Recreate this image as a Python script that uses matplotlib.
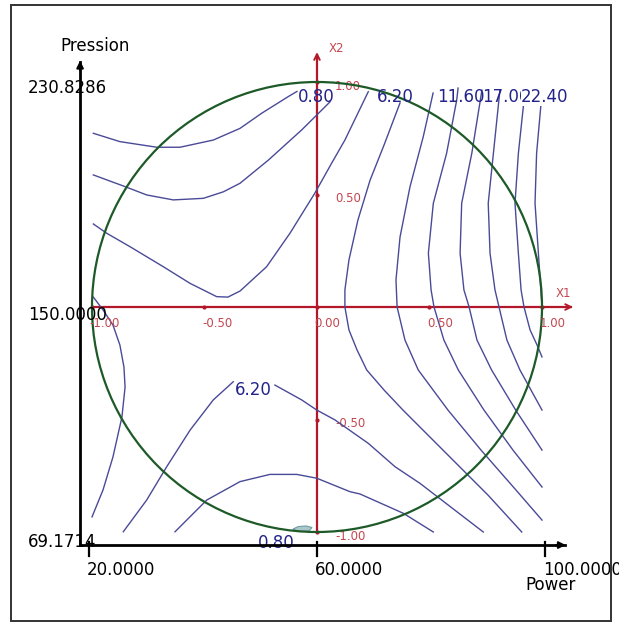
import numpy as np
import matplotlib.pyplot as plt
from matplotlib.patches import Circle, Rectangle

# response-surface isolines, coded units (X1 = power, X2 = pressure)
a_x1 = [-0.994, -0.876, -0.712, -0.609, -0.461, -0.342, -0.246, -0.128, -0.089]
a_x2 = [0.772, 0.735, 0.710, 0.710, 0.742, 0.794, 0.861, 0.935, 0.958]
b_x1 = [-0.994, -0.853, -0.757, -0.639, -0.505, -0.416, -0.342, -0.216, -0.068, 0.036, 0.058]
b_x2 = [0.587, 0.535, 0.498, 0.476, 0.483, 0.512, 0.550, 0.653, 0.787, 0.890, 0.912]
c_x1 = [-0.994, -0.935, -0.831, -0.683, -0.564, -0.446, -0.396, -0.342, -0.224, -0.120,
        -0.009, 0.065, 0.124, 0.228]
c_x2 = [0.369, 0.328, 0.268, 0.179, 0.105, 0.046, 0.044, 0.071, 0.179, 0.328,
        0.507, 0.639, 0.742, 0.957]
d_x1 = [0.369, 0.298, 0.236, 0.182, 0.142, 0.124, 0.124, 0.142, 0.178, 0.221, 0.298,
        0.382, 0.493, 0.604, 0.760, 0.910]
d_x2 = [0.907, 0.720, 0.564, 0.387, 0.209, 0.076, 0.0, -0.102, -0.191, -0.280, -0.369,
        -0.458, -0.569, -0.680, -0.836, -1.0]
e_x1 = [0.516, 0.472, 0.413, 0.369, 0.351, 0.356, 0.391, 0.450, 0.582, 0.729, 0.884, 1.0]
e_x2 = [0.951, 0.756, 0.533, 0.311, 0.120, 0.0, -0.147, -0.280, -0.458, -0.636, -0.813, -0.947]
f_x1 = [0.627, 0.621, 0.576, 0.517, 0.495, 0.507, 0.520, 0.564, 0.628, 0.742, 0.871, 1.0]
f_x2 = [0.973, 0.920, 0.683, 0.461, 0.239, 0.076, 0.0, -0.147, -0.280, -0.458, -0.636, -0.800]
g_x1 = [0.733, 0.688, 0.643, 0.636, 0.653, 0.676, 0.711, 0.776, 0.883, 1.0]
g_x2 = [0.964, 0.683, 0.461, 0.239, 0.076, 0.0, -0.147, -0.280, -0.458, -0.636]
h_x1 = [0.813, 0.784, 0.761, 0.769, 0.791, 0.809, 0.844, 0.902, 1.0]
h_x2 = [0.964, 0.683, 0.461, 0.239, 0.076, 0.0, -0.147, -0.280, -0.458]
i_x1 = [0.924, 0.895, 0.880, 0.895, 0.907, 0.920, 0.947, 0.978, 1.0]
i_x2 = [0.956, 0.683, 0.461, 0.239, 0.076, 0.0, -0.102, -0.169, -0.222]
j_x1 = [0.996, 0.976, 0.969, 0.984, 0.999, 1.0]
j_x2 = [0.907, 0.683, 0.461, 0.239, 0.018, -0.013]
k_x1 = [-0.994, -0.951, -0.907, -0.876, -0.858, -0.853, -0.867, -0.907, -0.951, -1.0]
k_x2 = [0.044, -0.013, -0.080, -0.169, -0.267, -0.356, -0.489, -0.667, -0.813, -0.933]
l1_x1 = [-0.861, -0.757, -0.668, -0.564, -0.461, -0.372]
l1_x2 = [-0.999, -0.858, -0.710, -0.547, -0.413, -0.332]
l2_x1 = [-0.187, -0.068, -0.001, 0.080, 0.228, 0.347, 0.458, 0.739]
l2_x2 = [-0.347, -0.413, -0.458, -0.502, -0.606, -0.710, -0.784, -1.0]
m_x1 = [-0.631, -0.490, -0.342, -0.209, -0.090, -0.001, 0.147, 0.191, 0.384, 0.517]
m_x2 = [-0.999, -0.858, -0.776, -0.744, -0.744, -0.761, -0.821, -0.831, -0.917, -1.0]
n_x1 = [-0.107, -0.084, -0.049, -0.022, -0.036, -0.084, -0.107]
n_x2 = [-0.987, -0.976, -0.973, -0.980, -0.996, -0.998, -0.987]

iso_lines = [(a_x1, a_x2), (b_x1, b_x2), (c_x1, c_x2), (d_x1, d_x2), (e_x1, e_x2),
             (f_x1, f_x2), (g_x1, g_x2), (h_x1, h_x2), (i_x1, i_x2), (j_x1, j_x2),
             (k_x1, k_x2), (l1_x1, l1_x2), (l2_x1, l2_x2), (m_x1, m_x2)]

# contour labels and where they sit (coded units)
level_text = ['0.80', '6.20', '11.60', '17.00', '22.40', '6.20', '0.80']
level_x1 = [-0.084, 0.267, 0.533, 0.733, 0.905, -0.364, -0.262]
level_x2 = [0.933, 0.933, 0.933, 0.933, 0.933, -0.369, -1.049]

# real-unit axes
power_ticks = [20.0, 60.0, 100.0]
power_center, power_step = 60.0, 40.0
pressure_ticks = [230.8286, 150.0, 69.1714]
pressure_center, pressure_step = 150.0, 80.8286
coded_ticks = [-1.0, -0.5, 0.0, 0.5, 1.0]

blue = '#4a4a98'
navy = '#23238a'
red = '#b3182a'
red_txt = '#c4474f'
green = '#1d5a28'

fig = plt.figure(figsize=(6.19, 6.24), dpi=100)
ax = fig.add_axes([0, 0, 1, 1])
ax.set_xlim(-317 / 225, 302 / 225)
ax.set_ylim(-317 / 225, 307 / 225)
ax.axis('off')

# frame around the picture
fig.patches.append(Rectangle((11 / 619, 3 / 624), 600 / 619, 616 / 624, fill=False,
                             lw=1.4, ec='#333333', transform=fig.transFigure))

for x1, x2 in iso_lines:
    ax.plot(x1, x2, color=blue, lw=1.0, zorder=3)
ax.fill(n_x1, n_x2, color='#a9c7c9', ec='#6f9ea3', lw=0.8, zorder=3)

ax.add_patch(Circle((0, 0), 1.0, fill=False, ec=green, lw=1.6, zorder=4))

# coded (red) axes
ax.plot([-1, 1.13], [0, 0], color=red, lw=1.6, zorder=2)
ax.plot([0, 0], [-1, 1.12], color=red, lw=1.6, zorder=2)
ax.annotate('', xy=(1.15, 0), xytext=(1.05, 0),
            arrowprops=dict(arrowstyle='->', color=red, lw=1.4))
ax.annotate('', xy=(0, 1.145), xytext=(0, 1.05),
            arrowprops=dict(arrowstyle='->', color=red, lw=1.4))
nz = [t for t in coded_ticks if t != 0]
ax.plot(coded_ticks, [0] * len(coded_ticks), 'o', ms=2, color=red, zorder=2)
ax.plot([0] * len(nz), nz, 'o', ms=2, color=red, zorder=2)
for t in coded_ticks:
    ax.text(t - 0.01, -0.073, '{0:.2f}'.format(t), color=red_txt, fontsize=8.5,
            ha='left', va='center', zorder=5)
for t in nz:
    ax.text(0.08, t - 0.018, '{0:.2f}'.format(t), color=red_txt, fontsize=8.5,
            ha='left', va='center', zorder=2)
ax.text(1.096, 0.058, 'X1', color=red_txt, fontsize=8.5, ha='center', va='center')
ax.text(0.087, 1.147, 'X2', color=red_txt, fontsize=8.5, ha='center', va='center')

# contour labels
for txt, x, y in zip(level_text, level_x1, level_x2):
    box = None
    z = 6
    if txt == '22.40':
        box = dict(fc='white', ec='none', pad=0.0)
        z = 7
    ax.text(x, y, txt, color=navy, fontsize=12, ha='left', va='center',
            zorder=z, bbox=box)

# real-unit (black) axes
ax0 = -1.053
ay0 = -1.058
ax.plot([ax0, 1.1], [ay0, ay0], color='black', lw=2.0, zorder=8)
ax.plot([ax0, ax0], [ay0, 1.09], color='black', lw=2.0, zorder=8)
ax.annotate('', xy=(1.118, ay0), xytext=(1.05, ay0),
            arrowprops=dict(arrowstyle='-|>', color='black', lw=1.5,
                            mutation_scale=10), zorder=8)
ax.annotate('', xy=(ax0, 1.107), xytext=(ax0, 1.04),
            arrowprops=dict(arrowstyle='-|>', color='black', lw=1.5,
                            mutation_scale=10), zorder=8)
for p in power_ticks:
    c = (p - power_center) / power_step
    c = c * 1.015
    ax.plot([c, c], [ay0 + 0.012, ay0 - 0.05], color='black', lw=1.6, zorder=8)
    ax.text(c - 0.01, -1.167, '{0:.4f}'.format(p), fontsize=12, ha='left',
            va='center')
for p in pressure_ticks:
    c = (p - pressure_center) / pressure_step
    ax.text(-1.284, c * 1.01 - 0.035, '{0:.4f}'.format(p), fontsize=12,
            ha='left', va='center', zorder=9)
ax.text(-0.987, 1.160, 'Pression', fontsize=12, ha='center', va='center')
ax.text(1.036, -1.236, 'Power', fontsize=12, ha='center', va='center')

fig.savefig('out.png', dpi=100)
